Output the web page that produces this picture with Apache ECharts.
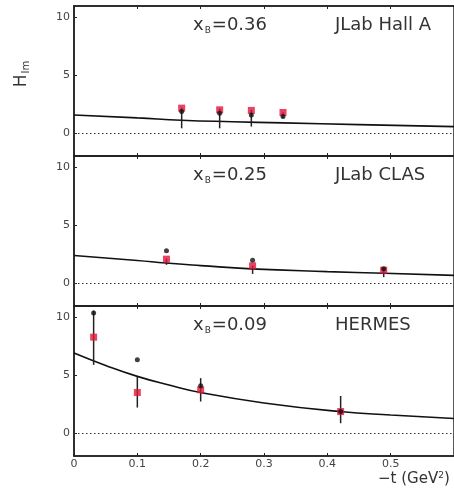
<!DOCTYPE html>
<html>
<head>
<meta charset="utf-8">
<script src="https://cdn.jsdelivr.net/npm/echarts@6/dist/echarts.min.js"></script>
<style>
html,body{margin:0;padding:0;background:#fff;}
#c{width:454px;height:488px;}
</style>
</head>
<body>
<div id="c"></div>
<script>
// ---- data ----
const panelTitles = ['0.36', '0.25', '0.09'];
const panelExperiments = ['JLab Hall A', 'JLab CLAS', 'HERMES'];
const xTicks = [0, 0.1, 0.2, 0.3, 0.4, 0.5, 0.6];
const yTicks = [0, 5, 10];

// Hall A (xB=0.36)
const hallA_t = [0.17, 0.23, 0.28, 0.33];
const hallA_red = [2.15, 2.0, 1.95, 1.77];
const hallA_black = [1.85, 1.7, 1.55, 1.42];
const hallA_errLo = [0.4, 0.4, 0.55, 1.3];
const hallA_errHi = [2.2, 2.1, 2.0, 1.8];
const hallA_curveT = [0, 0.1, 0.17, 0.25, 0.33, 0.45, 0.6];
const hallA_curveH = [1.55, 1.3, 1.1, 0.97, 0.87, 0.72, 0.55];

// CLAS (xB=0.25)
const clas_t = [0.146, 0.282, 0.489];
const clas_red = [2.06, 1.48, 1.1];
const clas_black = [2.78, 1.97, 1.22];
const clas_errLo = [1.57, 0.78, 0.5];
const clas_errHi = [2.1, 1.5, 1.3];
const clas_curveT = [0, 0.1, 0.145, 0.2, 0.28, 0.4, 0.49, 0.6];
const clas_curveH = [2.37, 1.95, 1.72, 1.5, 1.22, 0.98, 0.84, 0.65];

// HERMES (xB=0.09)
const hermes_t = [0.031, 0.1, 0.2, 0.421];
const hermes_red = [8.3, 3.5, 3.74, 1.85];
const hermes_black = [10.4, 6.35, 4.09, 1.85];
const hermes_errLo = [5.9, 2.2, 2.72, 0.84];
const hermes_errHi = [10.6, 4.9, 4.75, 3.2];
const hermes_curveT = [0, 0.05, 0.1, 0.15, 0.2, 0.3, 0.42, 0.5, 0.6];
const hermes_curveH = [6.93, 5.85, 4.9, 4.15, 3.5, 2.6, 1.85, 1.55, 1.25];

// ---- build ----
const zip = (a, b) => a.map((v, i) => [v, b[i]]);
const zip3 = (a, b, c) => a.map((v, i) => [v, b[i], c[i]]);
const panels = [
  {t: hallA_t, red: hallA_red, black: hallA_black, lo: hallA_errLo, hi: hallA_errHi, ct: hallA_curveT, ch: hallA_curveH},
  {t: clas_t, red: clas_red, black: clas_black, lo: clas_errLo, hi: clas_errHi, ct: clas_curveT, ch: clas_curveH},
  {t: hermes_t, red: hermes_red, black: hermes_black, lo: hermes_errLo, hi: hermes_errHi, ct: hermes_curveT, ch: hermes_curveH}
];
const tops = [6, 156, 306];
const grids = [], xAxes = [], yAxes = [], series = [], graphics = [];
const labelFont = 'DejaVu Sans';

panels.forEach((p, i) => {
  grids.push({left: 74, right: -10, top: tops[i], height: 150, show: true, borderColor: '#222', borderWidth: 1.5, backgroundColor: 'transparent'});
  xAxes.push({
    type: 'value', gridIndex: i, min: 0, max: 0.6, interval: 0.1, position: 'bottom',
    axisLine: {show: true, onZero: false, lineStyle: {color: '#222', width: 1.5}},
    axisTick: {show: true, inside: true, length: 3, lineStyle: {color: '#222'}},
    axisLabel: {show: i === 2, color: '#444', fontSize: 11, fontFamily: labelFont, margin: 3,
      showMaxLabel: false,
      formatter: v => v === 0 ? '0' : v.toFixed(1)},
    splitLine: {show: false}
  });
  xAxes.push({
    type: 'value', gridIndex: i, min: 0, max: 0.6, interval: 0.1, position: 'top',
    axisLine: {show: true, onZero: false, lineStyle: {color: '#222', width: 1.5}},
    axisTick: {show: true, inside: true, length: 3, lineStyle: {color: '#222'}},
    axisLabel: {show: false}, splitLine: {show: false}
  });
  yAxes.push({
    type: 'value', gridIndex: i, min: -2, max: 11,
    axisLine: {show: true, onZero: false, lineStyle: {color: '#222', width: 1.5}},
    axisTick: {show: true, inside: true, length: 3, customValues: yTicks, lineStyle: {color: '#222'}},
    axisLabel: {show: true, customValues: yTicks, color: '#444', fontSize: 11, fontFamily: labelFont, margin: 4},
    splitLine: {show: false}
  });
  const xi = i * 2;
  // curve
  series.push({
    type: 'line', xAxisIndex: xi, yAxisIndex: i, data: zip(p.ct, p.ch), smooth: true,
    showSymbol: false, symbol: 'none', lineStyle: {color: '#111', width: 1.6}, silent: true, z: 2,
    markLine: {silent: true, symbol: 'none', label: {show: false},
      lineStyle: {type: [1.5, 2.5], color: '#333', width: 1.2},
      data: [{yAxis: 0}]}
  });
  // error bars
  series.push({
    type: 'custom', xAxisIndex: xi, yAxisIndex: i, data: zip3(p.t, p.lo, p.hi), z: 3,
    renderItem: (params, api) => {
      const a = api.coord([api.value(0), api.value(1)]);
      const b = api.coord([api.value(0), api.value(2)]);
      return {type: 'line', shape: {x1: a[0], y1: a[1], x2: b[0], y2: b[1]},
        style: {stroke: '#222', lineWidth: 1.5}};
    }
  });
  // red squares
  series.push({
    type: 'scatter', xAxisIndex: xi, yAxisIndex: i, data: zip(p.t, p.red),
    symbol: 'rect', symbolSize: 7, itemStyle: {color: '#e2143a'}, z: 4
  });
  // black dots
  series.push({
    type: 'scatter', xAxisIndex: xi, yAxisIndex: i, data: zip(p.t, p.black),
    symbol: 'circle', symbolSize: 5, itemStyle: {color: '#111'}, z: 5
  });
  // panel texts
  graphics.push({
    type: 'text', left: 193, top: tops[i] + 10,
    style: {
      text: 'x{sub|B}=' + panelTitles[i],
      font: '18px ' + labelFont, fill: '#333',
      rich: {sub: {fontSize: 9, fontFamily: labelFont, fill: '#333', verticalAlign: 'bottom', padding: [12, 1, 0, 1]}}
    }
  });
  graphics.push({
    type: 'text', left: 335, top: tops[i] + 10,
    style: {text: panelExperiments[i], font: '18px ' + labelFont, fill: '#333'}
  });
});

graphics.push({
  type: 'text', x: 22, y: 74, rotation: Math.PI / 2,
  style: {
    text: 'H{sub|Im}', font: '17px ' + labelFont, fill: '#333', align: 'center', verticalAlign: 'middle',
    rich: {sub: {fontSize: 10, fontFamily: labelFont, fill: '#333', padding: [9, 0, 0, 1]}}
  }
});
graphics.push({
  type: 'text', left: 378, top: 471,
  style: {
    text: '\u2212t (GeV{sup|2})', font: '15px ' + labelFont, fill: '#333',
    rich: {sup: {fontSize: 9, fontFamily: labelFont, fill: '#333', padding: [0, 0, 8, 0]}}
  }
});

const chart = echarts.init(document.getElementById('c'), null, {renderer: 'canvas'});
chart.setOption({
  animation: false,
  backgroundColor: '#fff',
  grid: grids, xAxis: xAxes, yAxis: yAxes, series: series, graphic: graphics
});
</script>
</body>
</html>
